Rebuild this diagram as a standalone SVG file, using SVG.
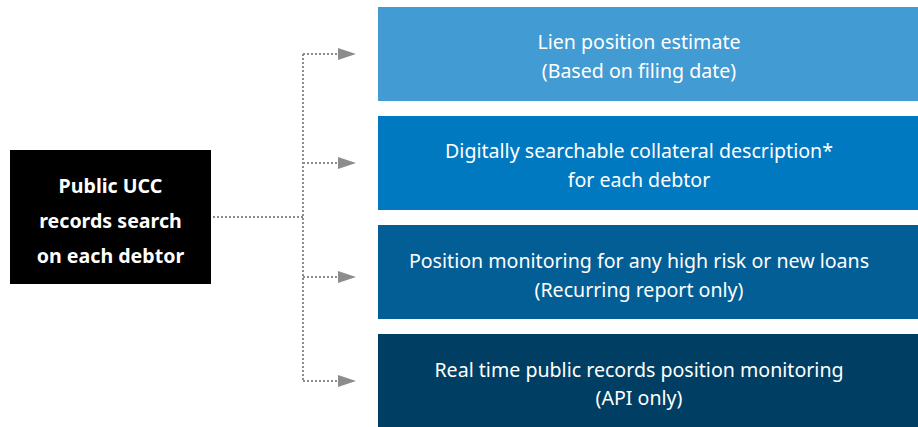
<svg xmlns="http://www.w3.org/2000/svg" width="918" height="427" viewBox="0 0 918 427">
<style>
.t{font-family:"Noto Sans","Open Sans","DejaVu Sans",sans-serif;fill:#fff;text-anchor:middle}
.b{font-size:19.6px}
.h{font-size:19.6px;font-weight:bold}
.c{fill:none;stroke:#8c8c8c;stroke-width:2;stroke-dasharray:2 2}
</style>
<defs>
<marker id="ah" markerWidth="18" markerHeight="12" refX="17" refY="6" orient="auto" markerUnits="userSpaceOnUse">
<path d="M0,0 L18,6 L0,12 Z" fill="#8c8c8c"/>
</marker>
</defs>
<rect width="918" height="427" fill="#fff"/>
<g id="connectors">
<path class="c" d="M213,217 H303"/>
<path class="c" d="M303,54 V381"/>
<path class="c" d="M303,54 H355" marker-end="url(#ah)"/>
<path class="c" d="M303,163 H355" marker-end="url(#ah)"/>
<path class="c" d="M303,277 H355" marker-end="url(#ah)"/>
<path class="c" d="M303,381 H355" marker-end="url(#ah)"/>
</g>
<g id="source">
<rect x="10" y="150" width="201" height="134" fill="#000"/>
<text class="t h" x="110.5" y="193">Public UCC</text>
<text class="t h" x="110.5" y="228">records search</text>
<text class="t h" x="110.5" y="263">on each debtor</text>
</g>
<g id="lien">
<rect x="378" y="7" width="540" height="94" fill="#429bd3"/>
<text class="t b" x="639" y="49">Lien position estimate</text>
<text class="t b" x="639" y="78">(Based on filing date)</text>
</g>
<g id="collateral">
<rect x="378" y="116" width="540" height="94" fill="#0079c1"/>
<text class="t b" x="639" y="158">Digitally searchable collateral description*</text>
<text class="t b" x="639" y="187">for each debtor</text>
</g>
<g id="monitoring">
<rect x="378" y="225" width="540" height="94" fill="#025e95"/>
<text class="t b" x="639" y="268">Position monitoring for any high risk or new loans</text>
<text class="t b" x="639" y="297">(Recurring report only)</text>
</g>
<g id="realtime">
<rect x="378" y="334" width="540" height="94" fill="#003f63"/>
<text class="t b" x="639" y="377">Real time public records position monitoring</text>
<text class="t b" x="639" y="405">(API only)</text>
</g>
</svg>
